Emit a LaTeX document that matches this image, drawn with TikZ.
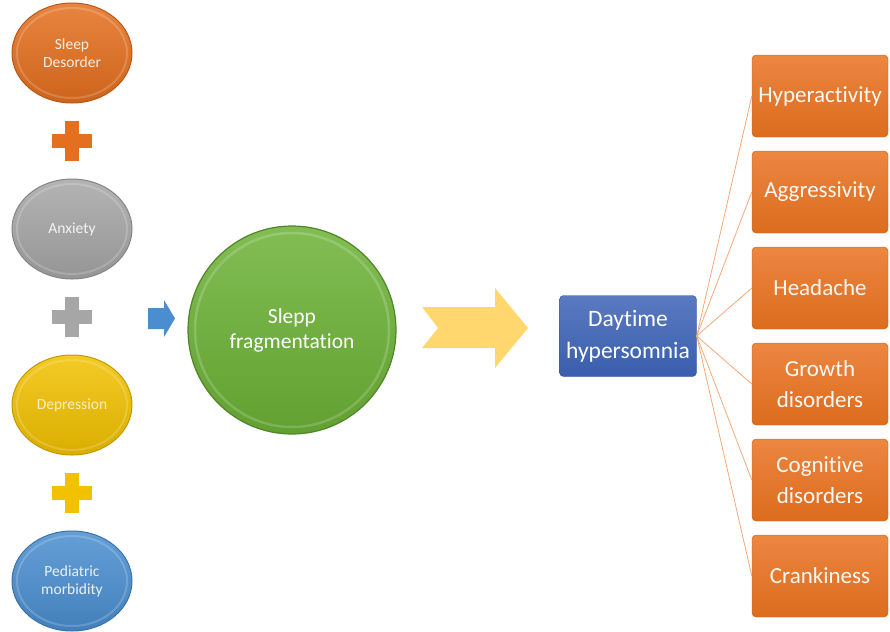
\documentclass[tikz,border=0pt]{standalone}
\usepackage{fontspec}
\setmainfont{Carlito}[Ligatures=NoCommon, RawFeature={-clig;-calt}]
\usetikzlibrary{shapes.geometric,positioning,matrix}
\definecolor{sdorange}{HTML}{E46F1E}
\definecolor{anxgray}{HTML}{A6A6A6}
\definecolor{depyellow}{HTML}{F2C100}
\definecolor{pedblue}{HTML}{4A8ED0}
\definecolor{fraggreen}{HTML}{6CB236}
\definecolor{chevyellow}{HTML}{FFD76E}
\definecolor{dayblue}{HTML}{3D63B6}
\definecolor{effectorange}{HTML}{E8711F}
\definecolor{fanline}{HTML}{F4A878}
\tikzset{
  cause/.style={
      ellipse,
      inner sep=0pt,
      minimum width=120pt,
      minimum height=100pt,
      align=center,
      font=\fontsize{15.5}{18}\selectfont,
      text=white!88!#1,
      line width=1pt,
      draw=#1!80!black,
      top color=#1!85!white,
      bottom color=#1!90!black,
      path picture={
        \draw[white, opacity=.18, line width=2pt]
          (path picture bounding box.center) ellipse [x radius=55pt, y radius=45pt];
      }
  },
  plussign/.style={
      rectangle,
      inner sep=0pt,
      minimum size=40pt,
      path picture={
        \fill[#1] ([xshift=-7pt,yshift=-20pt]path picture bounding box.center)
          rectangle ([xshift=7pt,yshift=20pt]path picture bounding box.center);
        \fill[#1] ([xshift=-20pt,yshift=-7pt]path picture bounding box.center)
          rectangle ([xshift=20pt,yshift=7pt]path picture bounding box.center);
      }
  },
  effect/.style={
      rectangle,
      rounded corners=4pt,
      inner sep=1pt,
      minimum width=136pt,
      minimum height=82pt,
      align=center,
      font=\fontsize{23}{31}\selectfont,
      text=white!95!effectorange,
      draw=effectorange!85!black,
      top color=effectorange!85!white,
      bottom color=effectorange!95!black
  },
  fan/.style={draw=fanline, line width=0.8pt}
}
\begin{document}
\begin{tikzpicture}[x=1pt,y=-1pt]
    \useasboundingbox (0,0) rectangle (890,631);
    % left column: the four causes joined by plus signs
    \matrix (causes) at (72,317) [row sep={88pt,between origins}]
    {
      \node[cause=sdorange] (sleep) {Sleep\\Desorder}; \\
      \node[plussign=sdorange] (plusa) {}; \\
      \node[cause=anxgray] (anxiety) {Anxiety}; \\
      \node[plussign=anxgray] (plusb) {}; \\
      \node[cause=depyellow, text=depyellow!25!white] (depression) {Depression}; \\
      \node[plussign=depyellow] (plusc) {}; \\
      \node[cause=pedblue] (pediatric) {Pediatric\\morbidity}; \\
    };
    % small arrow into the circle
    \fill[pedblue] (148,308) -- (164,308) -- (164,300) -- (175,318.5)
      -- (164,337) -- (164,329) -- (148,329) -- cycle;
    \node[circle, minimum size=208pt, inner sep=0pt, align=center,
          font=\fontsize{21.5}{25}\selectfont, text=white, line width=1.2pt,
          draw=fraggreen!75!black, top color=fraggreen!85!white,
          bottom color=fraggreen!90!black,
          path picture={
            \draw[white, opacity=.18, line width=2.5pt]
              (path picture bounding box.center) circle [radius=97pt];
          }] (frag) at (292,330) {Slepp\\fragmentation};
    % notched arrow
    \fill[chevyellow] (422,307) -- (495,307) -- (495,288) -- (528,328)
      -- (495,368) -- (495,348) -- (422,348) -- (438,328) -- cycle;
    \node[rectangle, rounded corners=4pt, minimum width=137pt, minimum height=81pt,
          inner sep=1pt, align=center, font=\fontsize{23.5}{32}\selectfont, text=white,
          draw=dayblue!85!black, top color=dayblue!85!white,
          bottom color=dayblue!95!black] (day) at (628,336) {Daytime\\hypersomnia};
    % right column: consequences
    \matrix (effects) at (820,336) [row sep={96pt,between origins}]
    {
      \node[effect] (hyper) {Hyperactivity}; \\
      \node[effect] (aggr) {Aggressivity}; \\
      \node[effect] (head) {Headache}; \\
      \node[effect] (growth) {Growth\\disorders}; \\
      \node[effect] (cogn) {Cognitive\\disorders}; \\
      \node[effect] (crank) {Crankiness}; \\
    };
    \foreach \n in {hyper,aggr,head,growth,cogn,crank}
      \draw[fan] (day.east) -- (\n.west);
\end{tikzpicture}
\end{document}
